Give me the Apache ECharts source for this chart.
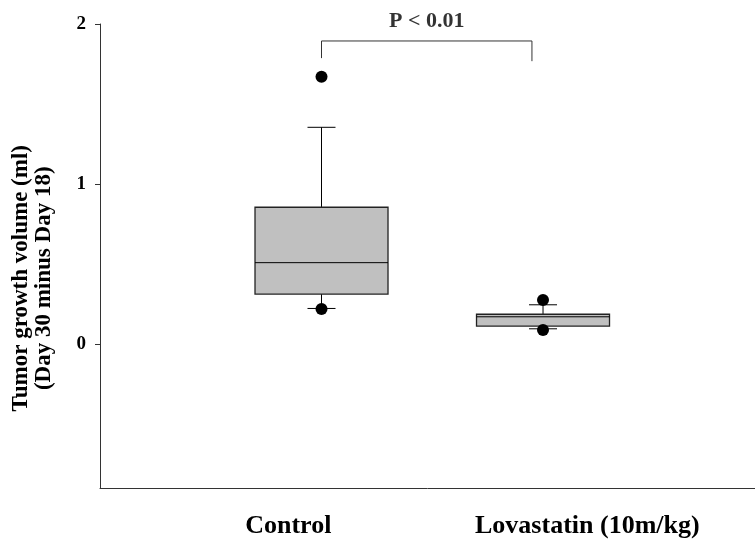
<!DOCTYPE html>
<html>
<head>
<meta charset="utf-8">
<script src="https://cdn.jsdelivr.net/npm/echarts@6/dist/echarts.min.js"></script>
<style>
  html, body { margin: 0; padding: 0; background: #fff; }
  #chart { width: 755px; height: 550px; }
</style>
</head>
<body>
<div id="chart"></div>
<script>
// groups and their box statistics (ml)
const categories = ["Control", "Lovastatin (10m/kg)"];
const groupX = [1, 2];
const whiskerLow = [0.224, 0.097];
const q1 = [0.314, 0.114];
const median = [0.51, 0.172];
const q3 = [0.856, 0.188];
const whiskerHigh = [1.355, 0.247];
const outliers = [
  [1, 1.67], [1, 0.22],
  [2, 0.277], [2, 0.089],
];
const yTicks = [0, 1, 2];
const pText = "P < 0.01";
const bracketX = [1, 1.95];
const bracketTop = 1.894;
const bracketEnds = [1.787, 1.768];

// where the group names sit under the axis (they are offset from the boxes)
const labelX = [0.85, 2.2];

const FONT = "Liberation Serif";
const BOX_W = 133;
const CAP_W = 28;

const boxData = groupX.map((x, i) => [x, whiskerLow[i], q1[i], median[i], q3[i], whiskerHigh[i]]);
const bracketData = [
  [bracketX[0], bracketEnds[0]],
  [bracketX[0], bracketTop],
  [bracketX[1], bracketTop],
  [bracketX[1], bracketEnds[1]],
];

const renderBox = (params, api) => {
  const x = api.value(0);
  const lo = api.coord([x, api.value(1)]);
  const b1 = api.coord([x, api.value(2)]);
  const md = api.coord([x, api.value(3)]);
  const b3 = api.coord([x, api.value(4)]);
  const hi = api.coord([x, api.value(5)]);
  const cx = lo[0];
  const line = { stroke: "#000", lineWidth: 1 };
  return {
    type: "group",
    children: [
      { type: "line", shape: { x1: cx, y1: b3[1], x2: cx, y2: hi[1] }, style: line },
      { type: "line", shape: { x1: cx, y1: b1[1], x2: cx, y2: lo[1] }, style: line },
      { type: "line", shape: { x1: cx - CAP_W / 2, y1: hi[1], x2: cx + CAP_W / 2, y2: hi[1] }, style: line },
      { type: "line", shape: { x1: cx - CAP_W / 2, y1: lo[1], x2: cx + CAP_W / 2, y2: lo[1] }, style: line },
      {
        type: "rect",
        shape: { x: cx - BOX_W / 2, y: b3[1], width: BOX_W, height: b1[1] - b3[1] },
        style: { fill: "#c0c0c0", stroke: "#222", lineWidth: 1.3 },
      },
      { type: "line", shape: { x1: cx - BOX_W / 2, y1: md[1], x2: cx + BOX_W / 2, y2: md[1] }, style: line },
    ],
  };
};

const myChart = echarts.init(document.getElementById("chart"));

const option = {
  animation: false,
  backgroundColor: "#fff",
  grid: { left: 100, right: 0, top: 24, bottom: 61.5 },
  xAxis: {
    type: "value",
    min: 0,
    max: 2.957,
    splitLine: { show: false },
    axisLine: { show: true, onZero: false, lineStyle: { color: "#333", width: 1 } },
    axisTick: { show: false },
    axisLabel: {
      customValues: labelX,
      formatter: (v) => categories[labelX.indexOf(v)] || "",
      margin: 25,
      fontFamily: FONT,
      fontWeight: "bold",
      fontSize: 26,
      color: "#000",
    },
  },
  yAxis: {
    type: "value",
    min: -0.9,
    max: 2,
    splitLine: { show: false },
    axisLine: { show: true, onZero: false, lineStyle: { color: "#333", width: 1 } },
    axisTick: { show: true, length: 5, customValues: yTicks, lineStyle: { color: "#333" } },
    axisLabel: {
      customValues: yTicks,
      margin: 14,
      fontFamily: FONT,
      fontWeight: "bold",
      fontSize: 19,
      color: "#000",
    },
    name: "Tumor growth volume (ml)\n(Day 30 minus Day 18)",
    nameLocation: "middle",
    nameGap: 44,
    nameTextStyle: {
      fontFamily: FONT,
      fontWeight: "bold",
      fontSize: 23,
      lineHeight: 23,
      color: "#000",
      padding: [0, 44, 0, 0],
    },
  },
  series: [
    {
      type: "custom",
      renderItem: renderBox,
      data: boxData,
      encode: { x: 0, y: [1, 2, 3, 4, 5] },
      z: 2,
    },
    {
      type: "scatter",
      data: outliers,
      symbol: "circle",
      symbolSize: 12,
      itemStyle: { color: "#000", opacity: 1 },
      z: 3,
    },
    {
      type: "line",
      data: bracketData,
      symbol: "none",
      lineStyle: { color: "#333", width: 1 },
      z: 2,
    },
    {
      type: "scatter",
      data: [[(bracketX[0] + bracketX[1]) / 2, bracketTop]],
      symbolSize: 0,
      clip: false,
      label: {
        show: true,
        position: "top",
        distance: 9,
        formatter: pText,
        fontFamily: FONT,
        fontWeight: "bold",
        fontSize: 22,
        color: "#000",
      },
    },
  ],
};

myChart.setOption(option);
</script>
</body>
</html>
